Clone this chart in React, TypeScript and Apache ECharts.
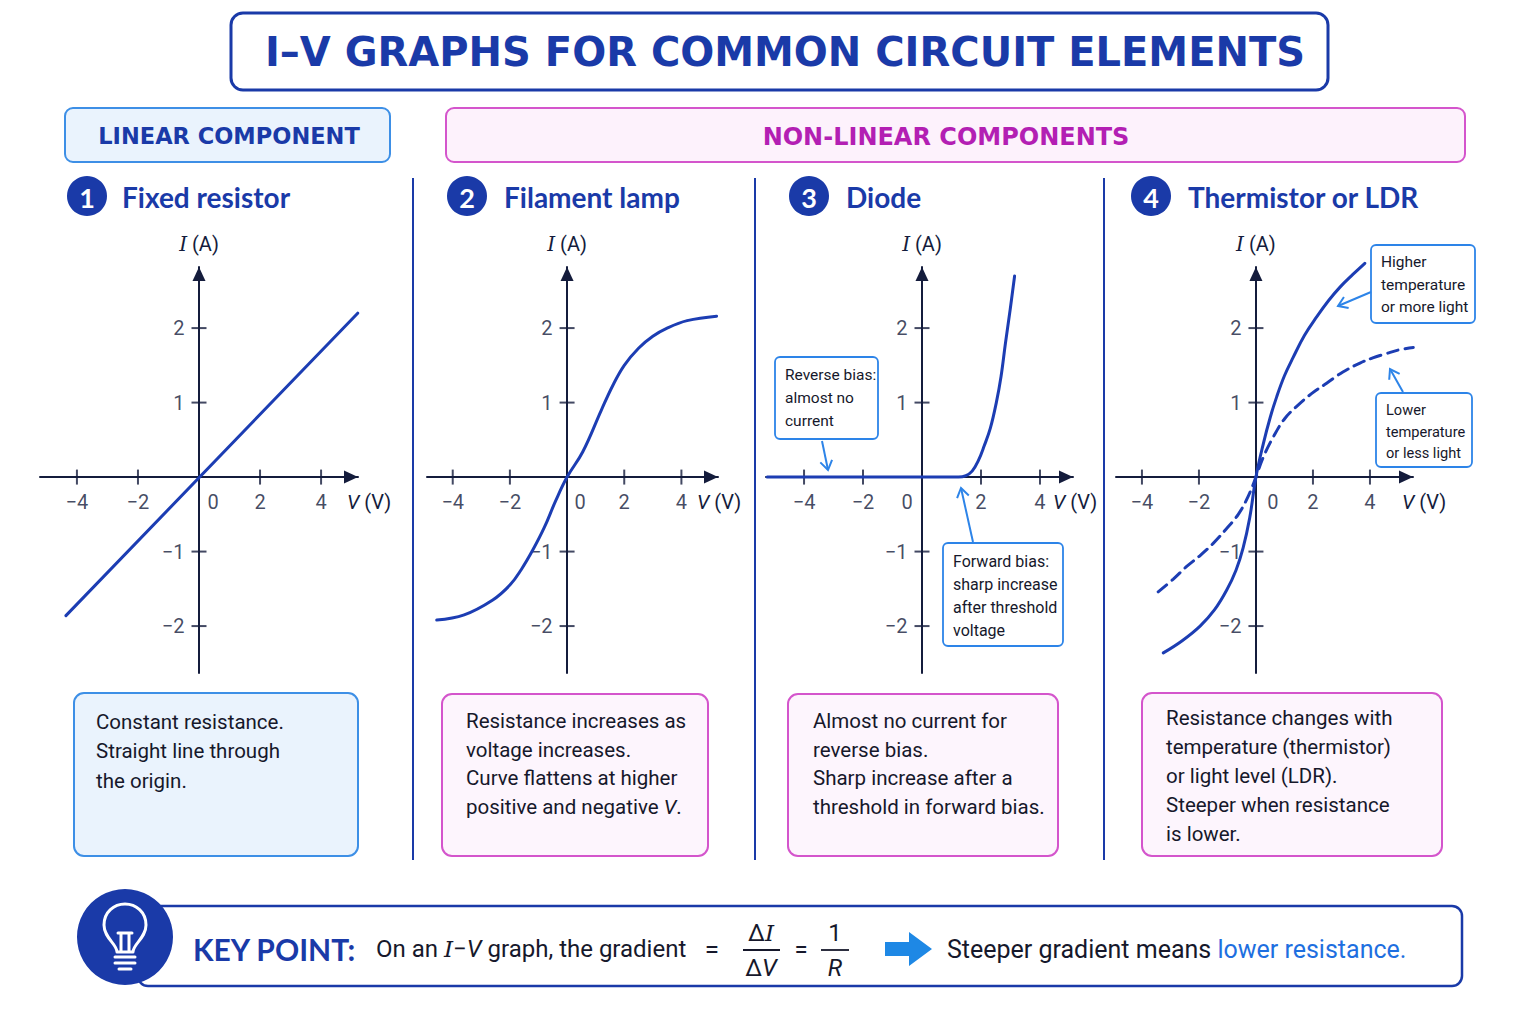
import React, { useEffect, useRef } from "react";
import * as echarts from "echarts";

// tick values shared by all four I-V panels
const xTicks = [-4, -2, 2, 4];
const yTicks = [-2, -1, 1, 2];
const xLabelValues = [-4, -2, 0, 2, 4];

// I-V curves: [V (V), I (A)]
const resistorIV = [[-4.36, -1.86], [5.2, 2.2]];
const lampIV = [
  [-4.56, -1.92], [-3.6, -1.85], [-2.6, -1.65], [-2.0, -1.45], [-1.6, -1.24], [-1.2, -0.98],
  [-0.8, -0.68], [-0.4, -0.32], [0, 0], [0.55, 0.34], [1.2, 0.9], [1.6, 1.23],
  [2.0, 1.5], [2.5, 1.73], [3.0, 1.89], [3.5, 2.0], [4.2, 2.1], [5.23, 2.16],
];
const diodeIV = [
  [-5.25, 0], [-2, 0], [0, 0], [1.24, 0], [1.49, 0.02], [1.7, 0.08], [1.91, 0.22], [2.11, 0.42],
  [2.32, 0.66], [2.52, 1.0], [2.68, 1.35], [2.83, 1.8], [2.99, 2.25], [3.14, 2.7],
];
const ldrHighIV = [
  [-3.25, -2.36], [-2.6, -2.2], [-1.96, -2.0], [-1.45, -1.78], [-1.03, -1.52], [-0.7, -1.25],
  [-0.45, -0.95], [-0.22, -0.55], [0, 0], [0.26, 0.45], [0.5, 0.8], [0.73, 1.08],
  [1.0, 1.36], [1.31, 1.61], [1.7, 1.9], [2.13, 2.15], [2.55, 2.37], [2.95, 2.55], [3.4, 2.72], [3.82, 2.87],
];
const ldrLowIV = [
  [-3.43, -1.54], [-2.9, -1.37], [-2.43, -1.2], [-1.95, -1.05], [-1.5, -0.89], [-1.05, -0.7],
  [-0.62, -0.5], [-0.25, -0.24], [0, 0], [0.25, 0.26], [0.61, 0.54], [1.0, 0.78], [1.43, 0.95],
  [1.95, 1.12], [2.48, 1.26], [3.05, 1.41], [3.65, 1.53], [4.1, 1.6], [4.59, 1.66], [5.05, 1.71], [5.52, 1.74],
];

const panelTitles = ["Fixed resistor", "Filament lamp", "Diode", "Thermistor or LDR"];
const panelNotes = [
  "Constant resistance.\nStraight line through\nthe origin.",
  "Resistance increases as\nvoltage increases.\nCurve flattens at higher\npositive and negative {iv|V}.",
  "Almost no current for\nreverse bias.\nSharp increase after a\nthreshold in forward bias.",
  "Resistance changes with\ntemperature (thermistor)\nor light level (LDR).\nSteeper when resistance\nis lower.",
];

const NAVY = "#141c3c";
const BLUE = "#1a3aa8";
const CURVE = "#1c3db3";
const SKY = "#2d84e8";
const MAG = "#d455cc";
const INK = "#16182b";
const SANS = "Roboto";
const HEAD = "Lato";
const SERIF = "DejaVu Serif";

// grid placement of each panel (pixel layout + axis extents)
const panels = [
  { left: 40, width: 318, min: -5.21, max: 5.21, zero: 14, nameGap: -11 },
  { left: 427, width: 291, min: -4.9, max: 5.28, zero: 13, nameGap: -21 },
  { left: 766, width: 307, min: -5.29, max: 5.12, zero: -15, nameGap: -20 },
  { left: 1116, width: 297, min: -4.91, max: 5.51, zero: 17, nameGap: -11 },
];
const GRID_TOP = 267;
const GRID_H = 406;
const Y_MIN = -2.63;
const Y_MAX = 2.82;

const BULB_D =
  "M -8 14 C -8 6 -21 0 -21 -13 C -21 -26 -11 -34 0 -34 C 11 -34 21 -26 21 -13 C 21 0 8 6 8 14 Z " +
  "M -10 19 L 10 19 M -10 25 L 10 25 M -6 31 L 6 31 " +
  "M -4 14 L -4 -5 M 4 14 L 4 -5 M -7 -5 L 7 -5";

const fmt = (v: number) => (v < 0 ? "\u2212" + Math.abs(v) : String(v));

const richItalic = {
  si: { fontFamily: SERIF, fontStyle: "italic", fontSize: 20, color: NAVY },
  iv: { fontFamily: SANS, fontStyle: "italic", fontSize: 20, color: NAVY },
};

function text(x: number, y: number, t: string, style: any) {
  return { type: "text", x, y, silent: true, style: { text: t, fill: INK, fontFamily: SANS, fontSize: 20, ...style } };
}
function box(x: number, y: number, w: number, h: number, r: number, fill: string, stroke: string, lw: number) {
  return { type: "rect", silent: true, shape: { x, y, width: w, height: h, r }, style: { fill, stroke, lineWidth: lw } };
}
function arrow(x1: number, y1: number, x2: number, y2: number, color: string) {
  const a = Math.atan2(y2 - y1, x2 - x1);
  const L = 9, W = 6;
  const bx = x2 - L * Math.cos(a), by = y2 - L * Math.sin(a);
  return [
    { type: "line", silent: true, shape: { x1, y1, x2, y2 }, style: { stroke: color, lineWidth: 2 } },
    {
      type: "polyline", silent: true,
      shape: { points: [[bx + W * Math.sin(a), by - W * Math.cos(a)], [x2, y2], [bx - W * Math.sin(a), by + W * Math.cos(a)]] },
      style: { stroke: color, lineWidth: 2, fill: null },
    },
  ];
}

export default function App() {
  const ref = useRef<HTMLDivElement | null>(null);

  useEffect(() => {
    echarts.graphic.registerShape("bulb", echarts.graphic.extendPath(BULB_D, {}));
    const chart = echarts.init(ref.current!, null, { renderer: "svg" });

    const grid = panels.map((p) => ({ left: p.left, width: p.width, top: GRID_TOP, height: GRID_H }));
    const axisLine = {
      onZero: true, symbol: ["none", "triangle"], symbolSize: [13, 14], symbolOffset: [0, -7],
      lineStyle: { color: NAVY, width: 2 },
    };
    const xAxis = panels.map((p, i) => ({
      type: "value", gridIndex: i, min: p.min, max: p.max,
      splitLine: { show: false }, axisTick: { show: false }, axisLabel: { show: false }, axisLine,
      name: "{iv|V} (V)", nameLocation: "end", nameGap: p.nameGap,
      nameTextStyle: {
        color: NAVY, fontSize: 20, fontFamily: SANS, align: "left", verticalAlign: "top",
        padding: [15, 0, 0, 0], rich: richItalic,
      },
    }));
    const yAxis = panels.map((p, i) => ({
      type: "value", gridIndex: i, min: Y_MIN, max: Y_MAX,
      splitLine: { show: false }, axisTick: { show: false }, axisLabel: { show: false }, axisLine,
      name: "{si|I} (A)", nameLocation: "end", nameGap: 13,
      nameTextStyle: { color: NAVY, fontSize: 20, fontFamily: SANS, rich: richItalic },
    }));

    const curve = (data: number[][], i: number, dashed = false) => ({
      type: "line", xAxisIndex: i, yAxisIndex: i, data, showSymbol: false, smooth: 0.4,
      clip: false, silent: true, z: 4,
      lineStyle: { color: CURVE, width: 3, type: dashed ? [11, 7] : "solid", cap: "round" },
    });
    const labelStyle = { show: true, color: NAVY, fontSize: 20, fontFamily: SANS };
    const axisMarks = (p: any, i: number) => [
      {
        type: "scatter", xAxisIndex: i, yAxisIndex: i, data: xTicks.map((v) => [v, 0]), silent: true, z: 3,
        symbol: "rect", symbolSize: [2, 15], itemStyle: { color: NAVY },
      },
      {
        type: "scatter", xAxisIndex: i, yAxisIndex: i, data: yTicks.map((v) => [0, v]), silent: true, z: 3,
        symbol: "rect", symbolSize: [15, 2], itemStyle: { color: NAVY },
        label: { ...labelStyle, position: "left", distance: 7, formatter: (d: any) => fmt(d.value[1]) },
      },
      {
        type: "scatter", xAxisIndex: i, yAxisIndex: i, silent: true, z: 3, symbolSize: 0,
        data: xLabelValues.map((v) => ({ value: [v, 0], label: { offset: [v === 0 ? p.zero : 0, 0] } })),
        label: { ...labelStyle, position: "bottom", distance: 15, formatter: (d: any) => fmt(d.value[0]) },
      },
    ];

    const series: any[] = [
      curve(resistorIV, 0), curve(lampIV, 1), curve(diodeIV, 2), curve(ldrHighIV, 3), curve(ldrLowIV, 3, true),
      ...panels.flatMap((p, i) => axisMarks(p, i)),
    ];

    const circleX = [87, 467, 809, 1151];
    const headX = [122, 504, 846, 1188];
    const noteBoxes = [
      { x: 74, y: 693, w: 284, h: 163, tx: 96, ty: 707, lh: 29.5, blue: true },
      { x: 442, y: 694, w: 266, h: 162, tx: 466, ty: 706.5, lh: 28.7, blue: false },
      { x: 788, y: 694, w: 270, h: 162, tx: 813, ty: 706.5, lh: 28.7, blue: false },
      { x: 1142, y: 693, w: 300, h: 163, tx: 1166, ty: 703.5, lh: 29, blue: false },
    ];

    const graphic: any[] = [
      // title
      box(231, 13, 1097, 77, 12, "#ffffff", BLUE, 3),
      text(785, 52, "I\u2013V GRAPHS FOR COMMON CIRCUIT ELEMENTS", {
        fill: BLUE, fontFamily: "DejaVu Sans", fontWeight: "bold", fontSize: 40, align: "center", verticalAlign: "middle",
      }),
      // group banners
      box(65, 108, 325, 54, 8, "#eaf3fd", "#3d8fe6", 2),
      text(229, 136, "LINEAR COMPONENT", {
        fill: BLUE, fontFamily: "DejaVu Sans", fontWeight: "bold", fontSize: 22.5, align: "center", verticalAlign: "middle",
      }),
      box(446, 108, 1019, 54, 8, "#fdf2fc", MAG, 2),
      text(946, 137, "NON-LINEAR COMPONENTS", {
        fill: "#b31fb3", fontFamily: "DejaVu Sans", fontWeight: "bold", fontSize: 24, align: "center", verticalAlign: "middle",
      }),
      // separators
      ...[413, 755, 1104].map((x) => ({
        type: "line", silent: true, shape: { x1: x, y1: 178, x2: x, y2: 860 }, style: { stroke: BLUE, lineWidth: 2 },
      })),
    ];

    panelTitles.forEach((t, i) => {
      graphic.push({ type: "circle", silent: true, shape: { cx: circleX[i], cy: 196, r: 20 }, style: { fill: BLUE } });
      graphic.push(text(circleX[i], 197, String(i + 1), {
        fill: "#ffffff", fontFamily: HEAD, fontWeight: "bold", fontSize: 27, align: "center", verticalAlign: "middle",
      }));
      graphic.push(text(headX[i], 197, t, {
        fill: BLUE, fontFamily: HEAD, fontWeight: "bold", fontSize: 28, verticalAlign: "middle",
      }));
    });

    noteBoxes.forEach((b, i) => {
      graphic.push(box(b.x, b.y, b.w, b.h, 10, b.blue ? "#eaf3fd" : "#fdf5fd", b.blue ? "#3d8fe6" : MAG, 2));
      graphic.push(text(b.tx, b.ty, panelNotes[i], {
        fill: INK, fontSize: 20.5, lineHeight: b.lh, verticalAlign: "top",
        rich: { iv: { fontFamily: SANS, fontStyle: "italic", fontSize: 20.5, fill: INK, lineHeight: b.lh } },
      }));
    });

    // callouts in panels 3 and 4
    const callouts = [
      { x: 775, y: 357, w: 103, h: 82, tx: 785, ty: 363.5, lh: 23, fs: 15.5, t: "Reverse bias:\nalmost no\ncurrent" },
      { x: 943, y: 543, w: 120, h: 103, tx: 953, ty: 549.5, lh: 23, fs: 16, t: "Forward bias:\nsharp increase\nafter threshold\nvoltage" },
      { x: 1371, y: 245, w: 104, h: 78, tx: 1381, ty: 251, lh: 22.5, fs: 15.5, t: "Higher\ntemperature\nor more light" },
      { x: 1376, y: 393, w: 96, h: 74, tx: 1386, ty: 399.5, lh: 21.5, fs: 14.6, t: "Lower\ntemperature\nor less light" },
    ];
    callouts.forEach((c) => {
      graphic.push(box(c.x, c.y, c.w, c.h, 5, "#ffffff", SKY, 1.8));
      graphic.push(text(c.tx, c.ty, c.t, { fill: INK, fontSize: c.fs, lineHeight: c.lh, verticalAlign: "top" }));
    });
    graphic.push(...arrow(822, 441, 828, 470, SKY));
    graphic.push(...arrow(973, 542, 961, 488, SKY));
    graphic.push(...arrow(1371, 292, 1338, 306, SKY));
    graphic.push(...arrow(1403, 392, 1390, 369, SKY));

    // key point bar
    graphic.push(box(138, 906, 1324, 80, 10, "#ffffff", BLUE, 2.5));
    graphic.push({ type: "circle", silent: true, shape: { cx: 125, cy: 937, r: 48 }, style: { fill: BLUE } });
    graphic.push({
      type: "bulb", silent: true, x: 125, y: 938,
      style: { fill: "none", stroke: "#ffffff", lineWidth: 3, lineJoin: "round", lineCap: "round" },
    });
    graphic.push(text(193, 949, "KEY POINT:", {
      fill: BLUE, fontFamily: HEAD, fontWeight: "bold", fontSize: 30, verticalAlign: "middle",
    }));
    const kpRich = {
      si: { fontFamily: SERIF, fontStyle: "italic", fontSize: 23, fill: INK },
      iv: { fontFamily: SANS, fontStyle: "italic", fontSize: 24, fill: INK },
    };
    graphic.push(text(376, 949, "On an {si|I}\u2212{iv|V} graph, the gradient", {
      fontSize: 24, verticalAlign: "middle", rich: kpRich,
    }));
    graphic.push(text(712, 949, "=", { fontSize: 26, align: "center", verticalAlign: "middle" }));
    graphic.push(text(761, 933, "\u0394{si|I}", { fontSize: 24, align: "center", verticalAlign: "middle", rich: kpRich }));
    graphic.push({ type: "line", silent: true, shape: { x1: 743, y1: 950, x2: 780, y2: 950 }, style: { stroke: INK, lineWidth: 1.8 } });
    graphic.push(text(761, 968, "\u0394{iv|V}", { fontSize: 24, align: "center", verticalAlign: "middle", rich: kpRich }));
    graphic.push(text(801, 950, "=", { fontSize: 24, align: "center", verticalAlign: "middle" }));
    graphic.push(text(835, 933, "1", { fontSize: 24, align: "center", verticalAlign: "middle" }));
    graphic.push({ type: "line", silent: true, shape: { x1: 821, y1: 950, x2: 849, y2: 950 }, style: { stroke: INK, lineWidth: 1.8 } });
    graphic.push(text(835, 968, "{iv|R}", { fontSize: 24, align: "center", verticalAlign: "middle", rich: kpRich }));
    graphic.push({
      type: "polygon", silent: true,
      shape: { points: [[885, 942], [909, 942], [909, 932], [932, 949], [909, 966], [909, 956], [885, 956]] },
      style: { fill: "#1e88e5" },
    });
    graphic.push(text(947, 949, "{a|Steeper gradient means }{b|lower resistance.}", {
      verticalAlign: "middle",
      rich: {
        a: { fontFamily: SANS, fontSize: 25, fill: INK },
        b: { fontFamily: SANS, fontSize: 25, fill: "#1e6fe0" },
      },
    }));

    chart.setOption({
      animation: false,
      backgroundColor: "#ffffff",
      textStyle: { fontFamily: SANS },
      grid, xAxis, yAxis, series, graphic,
    });

    return () => chart.dispose();
  }, []);

  return (
    <div
      ref={ref}
      style={{ position: "absolute", left: 0, top: 0, width: 1536, height: 1024, background: "#ffffff" }}
    />
  );
}
